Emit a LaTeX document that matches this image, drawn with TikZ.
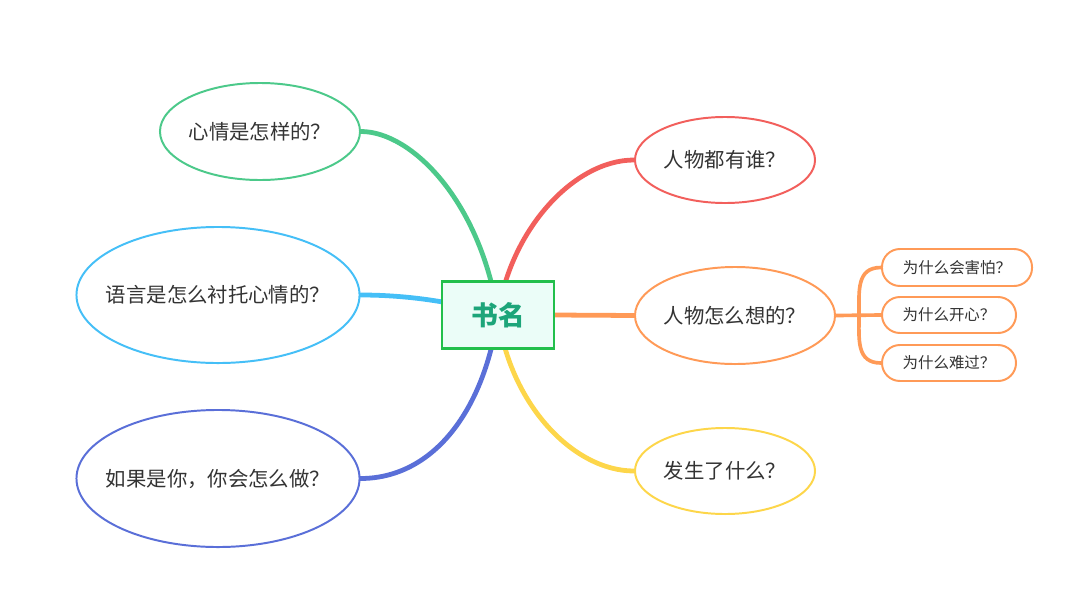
\documentclass[tikz,border=0pt]{standalone}
\usepackage{fontspec}
\usepackage{tikz}
\newfontfamily\cjk{Noto Sans CJK SC}
\usetikzlibrary{shapes.geometric}
\usetikzlibrary{backgrounds}
\usetikzlibrary{positioning}
\definecolor{mgreen}{HTML}{4CC98A}
\definecolor{mblue}{HTML}{45BFF7}
\definecolor{mnavy}{HTML}{5A6FD8}
\definecolor{mred}{HTML}{F25F5C}
\definecolor{morange}{HTML}{FF9A57}
\definecolor{myellow}{HTML}{FDD64A}
\definecolor{mbox}{HTML}{22BF4C}
\definecolor{mboxfill}{HTML}{EBFDF8}
\definecolor{mtitle}{HTML}{1DA57A}
\definecolor{mtext}{HTML}{333333}
\newcommand{\zw}[1]{\makebox[0pt]{#1}}

\begin{document}
\begin{tikzpicture}[x=0.025cm, y=-0.025cm,
    branch/.style={line width=3.4pt, line cap=round},
    twig/.style={line width=2.6pt, line cap=round, morange},
    qnode/.style={ellipse, line width=1.4pt, fill=white, inner sep=0pt,
      text=mtext, font=\cjk\fontsize{14.5}{17}\selectfont},
    subnode/.style={draw=morange, rounded corners=0.45cm, line width=1.4pt,
      fill=white, inner sep=0pt, text=mtext, font=\cjk\fontsize{11}{13}\selectfont}]
    \useasboundingbox (0, 0) rectangle (1080, 606);

    \node [draw=mbox, fill=mboxfill, line width=1.6pt, minimum width=2.8cm, minimum height=1.675cm,
      text=mtitle, font=\cjk\bfseries\fontsize{19}{22}\selectfont] (title) at (498, 315) {书名};

    \node [qnode, draw=mgreen, minimum width=5cm, minimum height=2.425cm] (mood) at (260, 131.5) {\zw{心情是怎样的？}};

    \node [qnode, draw=mblue, minimum width=7.075cm, minimum height=3.4cm] (words) at (218, 295) {\zw{语言是怎么衬托心情的？}};

    \node [qnode, draw=mnavy, minimum width=7.075cm, minimum height=3.425cm] (you) at (218, 478.5) {\zw{如果是你，你会怎么做？}};

    \node [qnode, draw=mred, minimum width=4.5cm, minimum height=2.15cm] (who) at (725, 160) {\zw{人物都有谁？}};

    \node [qnode, draw=morange, minimum width=5cm, minimum height=2.425cm] (think) at (735, 315.5) {\zw{人物怎么想的？}};

    \node [qnode, draw=myellow, minimum width=4.5cm, minimum height=2.15cm] (what) at (725, 471) {\zw{发生了什么？}};

    \node [subnode, minimum width=3.75cm, minimum height=0.925cm] (afraid) at (957, 267.5) {为什么会害怕？};

    \node [subnode, minimum width=3.35cm, minimum height=0.9cm] (happy) at (949, 315) {为什么开心？};

    \node [subnode, minimum width=3.35cm, minimum height=0.9cm] (sad) at (949, 363) {为什么难过？};

    \coordinate (fork) at (859, 315);

    \begin{scope}[on background layer]
      \draw [branch, mgreen] (title.center) .. controls +(-18, -115) and +(50, 0) .. (mood.east);

      \draw [branch, mblue] (words.east) .. controls +(40, 0) and +(-50, -15) .. (title.center);

      \draw [branch, mnavy] (title.center) .. controls +(-15, 100) and +(70, 0) .. (you.east);

      \draw [branch, mred] (title.center) .. controls +(12, -85) and +(-60, 0) .. (who.west);

      \draw [branch, morange] (title.east) -- (think.west);

      \draw [branch, myellow] (title.center) .. controls +(12, 90) and +(-60, 0) .. (what.west);

      \draw [twig] (think.east) -- (happy.west);

      \draw [twig] (fork) to [out=90, in=180, looseness=1.2] (afraid.west);

      \draw [twig] (fork) to [out=-90, in=180, looseness=1.2] (sad.west);
    \end{scope}
\end{tikzpicture}
\end{document}
